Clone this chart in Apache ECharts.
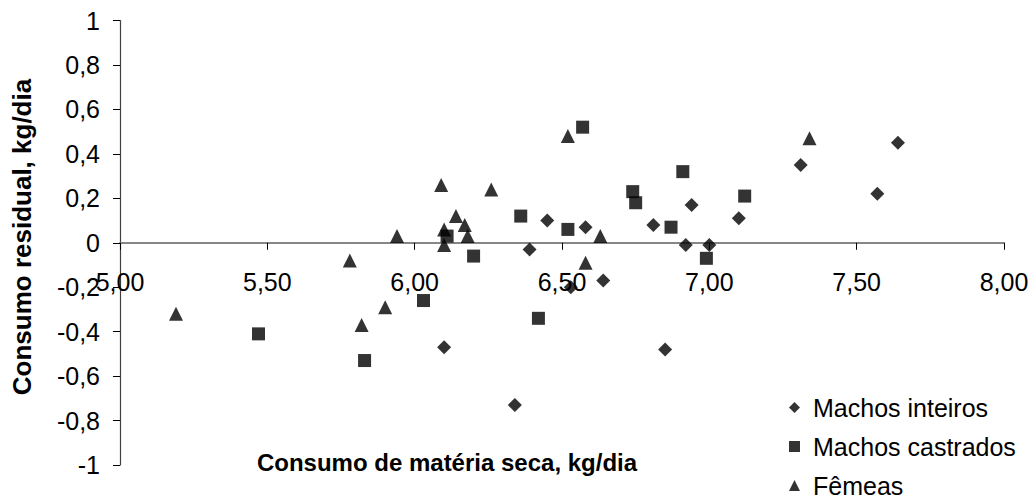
<!DOCTYPE html>
<html>
<head>
<meta charset="utf-8">
<script src="https://cdn.jsdelivr.net/npm/echarts@6/dist/echarts.min.js"></script>
<style>
html,body{margin:0;padding:0;background:#fff;}
#chart{width:1034px;height:498px;}
</style>
</head>
<body>
<div id="chart"></div>
<script>
// Data
var seriesNames = ['Machos inteiros', 'Machos castrados', 'Fêmeas'];

var inteirosX = [6.10, 6.34, 6.39, 6.45, 6.53, 6.58, 6.64, 6.81, 6.85, 6.92, 6.94, 7.00, 7.10, 7.31, 7.57, 7.64];
var inteirosY = [-0.47, -0.73, -0.03, 0.10, -0.20, 0.07, -0.17, 0.08, -0.48, -0.01, 0.17, -0.01, 0.11, 0.35, 0.22, 0.45];

var castradosX = [5.47, 5.83, 6.03, 6.11, 6.20, 6.36, 6.42, 6.52, 6.57, 6.74, 6.75, 6.87, 6.91, 6.99, 7.12];
var castradosY = [-0.41, -0.53, -0.26, 0.03, -0.06, 0.12, -0.34, 0.06, 0.52, 0.23, 0.18, 0.07, 0.32, -0.07, 0.21];

var femeasX = [5.19, 5.78, 5.82, 5.90, 5.94, 6.09, 6.10, 6.10, 6.14, 6.17, 6.18, 6.26, 6.52, 6.58, 6.63, 7.34];
var femeasY = [-0.32, -0.08, -0.37, -0.29, 0.03, 0.26, 0.06, -0.01, 0.12, 0.08, 0.03, 0.24, 0.48, -0.09, 0.03, 0.47];

var xTitle = 'Consumo de matéria seca, kg/dia';
var yTitle = 'Consumo residual, kg/dia';

function pairs(xs, ys) {
  var out = [];
  for (var i = 0; i < xs.length; i++) out.push([xs[i], ys[i]]);
  return out;
}

var FONT = '"Liberation Sans", Arial, sans-serif';
var GRID_TOP = 20.5, GRID_BOTTOM = 33, H = 498;
// the x axis sits where y = 0, i.e. halfway up the y range [-1, 1]
var plotH = H - GRID_TOP - GRID_BOTTOM;
var xAxisOffset = -plotH / 2;

var chart = echarts.init(document.getElementById('chart'), null, {renderer: 'svg'});
chart.setOption({
  animation: false,
  backgroundColor: '#ffffff',
  grid: {left: 120, right: 30, top: GRID_TOP, bottom: GRID_BOTTOM, containLabel: false},
  xAxis: {
    type: 'value',
    position: 'bottom',
    offset: xAxisOffset,
    min: 5, max: 8, interval: 0.5,
    axisLine: {show: true, onZero: false, lineStyle: {color: '#868686', width: 2}},
    axisTick: {show: true, inside: false, length: 7, lineStyle: {color: '#000', width: 1}},
    splitLine: {show: false},
    axisLabel: {
      margin: 27,
      color: '#000',
      fontFamily: FONT,
      fontSize: 25,
      showMinLabel: true, showMaxLabel: true,
      hideOverlap: false,
      formatter: function (v) { return v.toFixed(2).replace('.', ','); }
    }
  },
  yAxis: {
    type: 'value',
    min: -1, max: 1, interval: 0.2,
    axisLine: {show: true, onZero: false, lineStyle: {color: '#404040', width: 1.2}},
    axisTick: {show: true, inside: false, length: 7, lineStyle: {color: '#000', width: 1}},
    splitLine: {show: false},
    axisLabel: {
      margin: 20,
      color: '#000',
      fontFamily: FONT,
      fontSize: 25,
      showMinLabel: true, showMaxLabel: true,
      hideOverlap: false,
      formatter: function (v) {
        var r = Math.round(v * 10) / 10;
        return String(r).replace('.', ',');
      }
    }
  },
  legend: {
    orient: 'vertical',
    left: 789,
    top: 395,
    height: 300,
    padding: 0,
    itemWidth: 11,
    itemHeight: 11,
    itemGap: 14,
    textStyle: {color: '#000', fontFamily: FONT, fontSize: 25, lineHeight: 24, padding: [0, 0, 0, 8]},
    data: seriesNames
  },
  graphic: [
    {
      type: 'text',
      x: 447, y: 462,
      style: {
        text: xTitle,
        fontFamily: FONT, fontWeight: 'bold', fontSize: 24,
        fill: '#000', align: 'center', verticalAlign: 'middle'
      }
    },
    {
      type: 'text',
      x: 22, y: 237,
      rotation: Math.PI / 2,
      style: {
        text: yTitle,
        fontFamily: FONT, fontWeight: 'bold', fontSize: 26,
        fill: '#000', align: 'center', verticalAlign: 'middle'
      }
    }
  ],
  series: [
    {
      name: seriesNames[0], type: 'scatter', symbol: 'diamond', symbolSize: 14,
      itemStyle: {color: '#000'}, data: pairs(inteirosX, inteirosY)
    },
    {
      name: seriesNames[1], type: 'scatter', symbol: 'rect', symbolSize: 13,
      itemStyle: {color: '#000'}, data: pairs(castradosX, castradosY)
    },
    {
      name: seriesNames[2], type: 'scatter', symbol: 'triangle', symbolSize: 14,
      itemStyle: {color: '#000'}, data: pairs(femeasX, femeasY)
    }
  ]
});
</script>
</body>
</html>
